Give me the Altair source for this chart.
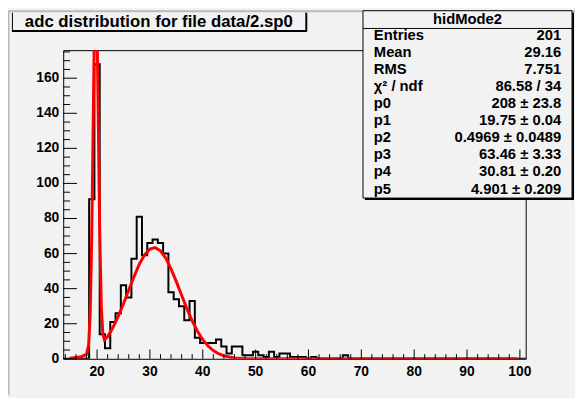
import altair as alt
import pandas as pd

# ---------------- data ----------------
# histogram "hidMode2": unit-width bins centred on integers 14 .. 101
bin_centers = list(range(14, 102))
counts = ([0, 0, 0, 0, 0,
           91, 168, 14, 6, 21, 26, 42, 35, 57, 81,
           59, 66, 68, 66, 60, 38, 34, 30, 22, 33,
           12, 9, 9, 9, 11, 7, 3, 7, 7, 2,
           2, 4, 2, 1, 4, 1, 3, 3, 1, 1,
           1, 0, 1, 0, 0, 0, 0, 0, 2]
          + [0] * 34)

# red fit curve (double gaussian)
fit_x = [14.8, 16, 17, 18, 18.4, 18.7, 19.0, 19.3, 19.5, 19.75, 20.0, 20.2,
         20.5, 20.8, 21.1, 21.4, 22, 23, 24, 25, 26, 27, 28, 29, 30, 31, 32,
         33, 34, 35, 36, 37, 38, 39, 40, 41, 42, 43, 44, 45, 46, 48, 50, 60,
         80, 99.5]
fit_y = [0.3, 0.7, 1.2, 2.5, 7.8, 25.3, 70, 142, 187, 213, 189, 144,
         73.5, 30.2, 14.1, 10.9, 12.6, 17.8, 24.2, 31.4, 39.2, 46.9, 53.9,
         59.3, 62.6, 63.4, 61.6, 57.4, 51.3, 44.0, 36.2, 28.6, 21.6, 15.7,
         10.9, 7.3, 4.7, 2.9, 1.7, 1.0, 0.5, 0.1, 0, 0, 0, 0]

x_tick_labels = [20, 30, 40, 50, 60, 70, 80, 90, 100]
y_tick_labels = [0, 20, 40, 60, 80, 100, 120, 140, 160]

title_text = "adc distribution for file data/2.sp0"
stats_header = "hidMode2"
stats_names = ["Entries", "Mean", "RMS", "\u03c7\u00b2 / ndf", "p0", "p1", "p2", "p3", "p4", "p5"]
stats_values = ["201", "29.16", "7.751", "86.58 / 34", "208 \u00b1 23.8",
                "19.75 \u00b1 0.04", "0.4969 \u00b1 0.0489", "63.46 \u00b1 3.33",
                "30.81 \u00b1 0.20", "4.901 \u00b1 0.209"]

# ---------------- layout / style ----------------
FONT = "Liberation Sans"
BG = "#f2f2f2"
W, H = 469, 313
x_domain = [13.6, 101.1]
y_domain = [0, 176]

xscale = alt.Scale(domain=x_domain, nice=False, zero=False)
yscale = alt.Scale(domain=y_domain, nice=False, zero=True)

edges = [c - 0.5 for c in bin_centers] + [bin_centers[-1] + 0.5]
hist_df = pd.DataFrame({"x": edges, "y": counts + [counts[-1]]})
fit_df = pd.DataFrame({"x": fit_x, "y": fit_y})

hist = alt.Chart(hist_df).mark_line(
    interpolate="step-after", color="black", strokeWidth=2, clip=True
).encode(
    x=alt.X("x:Q", scale=xscale, axis=None),
    y=alt.Y("y:Q", scale=yscale, axis=None),
)

fit = alt.Chart(fit_df).mark_line(color="#ff0000", strokeWidth=3, clip=True).encode(
    x=alt.X("x:Q", scale=xscale, axis=None),
    y=alt.Y("y:Q", scale=yscale, axis=None),
)

# inward ticks (ROOT style)
x_major = x_tick_labels
x_minor = [v for v in range(14, 101, 2) if v % 10 != 0]
y_major = y_tick_labels
y_minor = [v for v in range(5, 176, 5) if v % 20 != 0]

def xticks(vals, length):
    return alt.Chart(pd.DataFrame({"v": vals})).mark_rule(color="black", strokeWidth=1).encode(
        x=alt.X("v:Q", scale=xscale, axis=None),
        y=alt.value(H), y2=alt.value(H - length))

def yticks(vals, length):
    return alt.Chart(pd.DataFrame({"v": vals})).mark_rule(color="black", strokeWidth=1).encode(
        y=alt.Y("v:Q", scale=yscale, axis=None),
        x=alt.value(0), x2=alt.value(length))

x_labels = alt.Chart(pd.DataFrame({"v": x_tick_labels})).mark_text(
    font=FONT, fontSize=14, fontWeight="bold", color="black", align="center", baseline="middle"
).encode(x=alt.X("v:Q", scale=xscale, axis=None), y=alt.value(H + 13), text="v:Q")

y_labels = alt.Chart(pd.DataFrame({"v": y_tick_labels})).mark_text(
    font=FONT, fontSize=14, fontWeight="bold", color="black", align="right", baseline="middle"
).encode(y=alt.Y("v:Q", scale=yscale, axis=None), x=alt.value(-4), text="v:Q")

dummy = pd.DataFrame({"a": [0]})

def rect(x1, x2, y1, y2, **kw):
    return alt.Chart(dummy).mark_rect(**kw).encode(
        x=alt.value(x1), x2=alt.value(x2), y=alt.value(y1), y2=alt.value(y2))

def rule(x1, x2, y1, y2, color="black", width=1):
    return alt.Chart(dummy).mark_rule(color=color, strokeWidth=width).encode(
        x=alt.value(x1), x2=alt.value(x2), y=alt.value(y1), y2=alt.value(y2))

def text(s, x, y, align="left", size=15, baseline="middle"):
    return alt.Chart(dummy).mark_text(
        text=s, font=FONT, fontSize=size, fontWeight="bold", color="black",
        align=align, baseline=baseline
    ).encode(x=alt.value(x), y=alt.value(y))

layers = [hist, fit,
          xticks(x_major, 9.4), xticks(x_minor, 4.7),
          yticks(y_major, 14), yticks(y_minor, 7),
          x_labels, y_labels]

# canvas bevel lines
layers += [rule(-55.5, -55.5, -40, H + 37, color="#b8b8b8", width=2),
           rule(-56, W + 50, -39.5, -39.5, color="#b8b8b8", width=2)]

# title box
layers += [rect(-52, 246, -38, -19, fill=BG),
           rule(-51.5, -51.5, -38, -19),
           rule(-52, 247, -19.5, -19.5, width=2),
           rule(246.5, 246.5, -38, -19, width=2),
           text(title_text, 97, -23, align="center", size=17, baseline="alphabetic")]

# stats box
box_l, box_r, box_t, box_b = 304, 516, -40, 150
layers += [rect(box_l, box_r, box_t, box_b, fill=BG, stroke="black", strokeWidth=1),
           rule(box_l + 2, box_r + 2, box_b + 1, box_b + 1, width=2),
           rule(box_r + 1, box_r + 1, box_t + 2, box_b + 2, width=2),
           rule(box_l, box_r, -22, -22),
           text(stats_header, (box_l + box_r) / 2, -32, align="center", size=15)]
for i, (n, v) in enumerate(zip(stats_names, stats_values)):
    yy = -15.3 + 17.3 * i
    layers.append(text(n, 315, yy, align="left"))
    layers.append(text(v, 505, yy, align="right"))

chart = alt.layer(*layers).properties(
    width=W, height=H,
    padding={"left": 56, "top": 40, "right": 50, "bottom": 37},
    autosize=alt.AutoSizeParams(type="none"),
).configure(background=BG).configure_view(
    stroke="black", strokeWidth=1
)

chart.save("out.html", embed_options={"renderer": "svg", "actions": False})
